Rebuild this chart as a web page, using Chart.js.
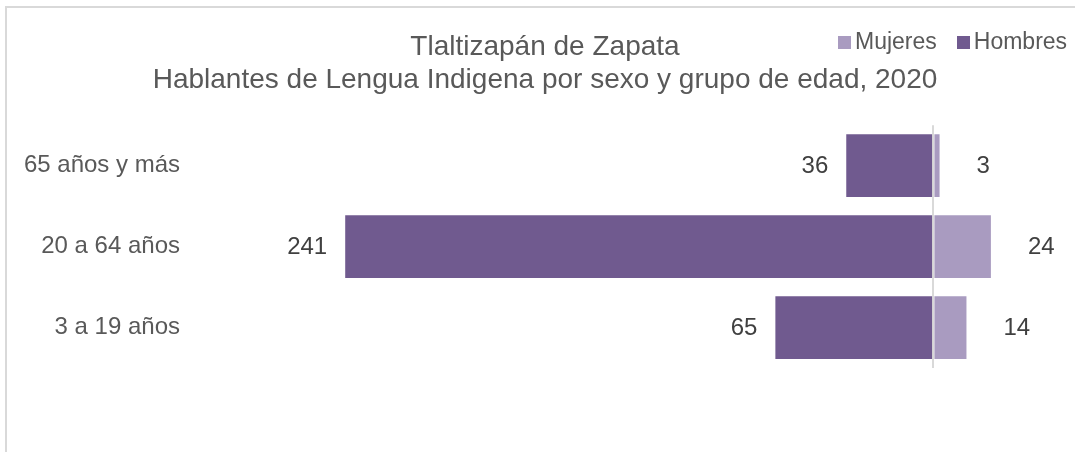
<!DOCTYPE html>
<html>
<head>
<meta charset="utf-8">
<script src="https://cdn.jsdelivr.net/npm/chart.js@4"></script>
<style>
  html, body { margin: 0; padding: 0; background: #fff; overflow: hidden; }
  #wrap { position: relative; width: 1075px; height: 452px; }
  #frame { position: absolute; left: 5px; top: 6px; width: 2000px; height: 1000px; border: 2px solid #d9d9d9; box-sizing: border-box; }
  #chart { position: absolute; left: 0; top: 0; }
  #legend { position: absolute; left: 838px; top: 28px; font-family: "Liberation Sans", Arial, sans-serif; font-size: 23px; color: #595959; white-space: nowrap; }
  #legend span.item { display: inline-block; margin-right: 20px; }
  #legend span.box { display: inline-block; width: 13px; height: 13px; margin-right: 4px; vertical-align: 0px; }
</style>
</head>
<body>
<div id="wrap">
  <div id="frame"></div>
  <canvas id="chart" width="1075" height="452"></canvas>
  <div id="legend"></div>
</div>
<script>
// data
var categories = ['65 años y más', '20 a 64 años', '3 a 19 años'];
var mujeres = [3, 24, 14];
var hombres = [36, 241, 65];
var titleLines = ['Tlaltizapán de Zapata', 'Hablantes de Lengua Indigena por sexo y grupo de edad, 2020'];

var colorMujeres = '#a99bc0';
var colorHombres = '#705a8f';
var fontFamily = '"Liberation Sans", Arial, sans-serif';

// data labels drawn next to each bar
var barLabels = {
    id: 'barLabels',
    afterDatasetsDraw: function(chart) {
        var ctx = chart.ctx;
        ctx.save();
        ctx.font = '24px ' + fontFamily;
        ctx.fillStyle = '#404040';
        ctx.textBaseline = 'middle';
        chart.data.datasets.forEach(function(ds, i) {
            var meta = chart.getDatasetMeta(i);
            meta.data.forEach(function(bar, j) {
                var v = Math.abs(ds.data[j]);
                if (ds.data[j] < 0) {
                    ctx.textAlign = 'right';
                    ctx.fillText(v, bar.x - 17, bar.y + 1);
                } else {
                    ctx.textAlign = 'left';
                    ctx.fillText(v, bar.x + 36, bar.y + 1);
                }
            });
        });
        ctx.restore();
    }
};

var ctx = document.getElementById('chart').getContext('2d');
var chart = new Chart(ctx, {
    type: 'bar',
    data: {
        labels: categories,
        datasets: [{
            label: 'Mujeres',
            data: mujeres,
            backgroundColor: colorMujeres,
            borderColor: '#ffffff',
            borderWidth: 1
        }, {
            label: 'Hombres',
            data: hombres.map(function(v) { return -v; }),
            backgroundColor: colorHombres,
            borderColor: '#ffffff',
            borderWidth: 1
        }]
    },
    options: {
        indexAxis: 'y',
        responsive: false,
        animation: false,
        categoryPercentage: 1,
        barPercentage: 0.8,
        layout: { padding: { left: 15, right: 0, top: 0, bottom: 84 } },
        plugins: {
            legend: { display: false },
            tooltip: { enabled: false },
            title: {
                display: true,
                text: titleLines,
                color: '#595959',
                font: { family: fontFamily, size: 28, weight: 'normal', lineHeight: 1.2 },
                padding: { top: 30, bottom: 28 }
            }
        },
        scales: {
            x: {
                stacked: true,
                min: -300,
                max: 58,
                ticks: { display: false, stepSize: 50 },
                border: { display: false },
                grid: {
                    drawTicks: false,
                    lineWidth: 2,
                    color: function(c) { return c.tick && c.tick.value === 0 ? '#d9d9d9' : 'rgba(0,0,0,0)'; }
                }
            },
            y: {
                stacked: true,
                border: { display: false },
                grid: { display: false, drawTicks: false },
                ticks: {
                    color: '#595959',
                    padding: 20,
                    font: { family: fontFamily, size: 24 }
                },
                afterFit: function(scale) { scale.width = 185; }
            }
        }
    },
    plugins: [barLabels]
});

// legend
var legendEl = document.getElementById('legend');
chart.data.datasets.forEach(function(ds) {
    var item = document.createElement('span');
    item.className = 'item';
    var box = document.createElement('span');
    box.className = 'box';
    box.style.background = ds.backgroundColor;
    item.appendChild(box);
    item.appendChild(document.createTextNode(ds.label));
    legendEl.appendChild(item);
});
</script>
</body>
</html>
